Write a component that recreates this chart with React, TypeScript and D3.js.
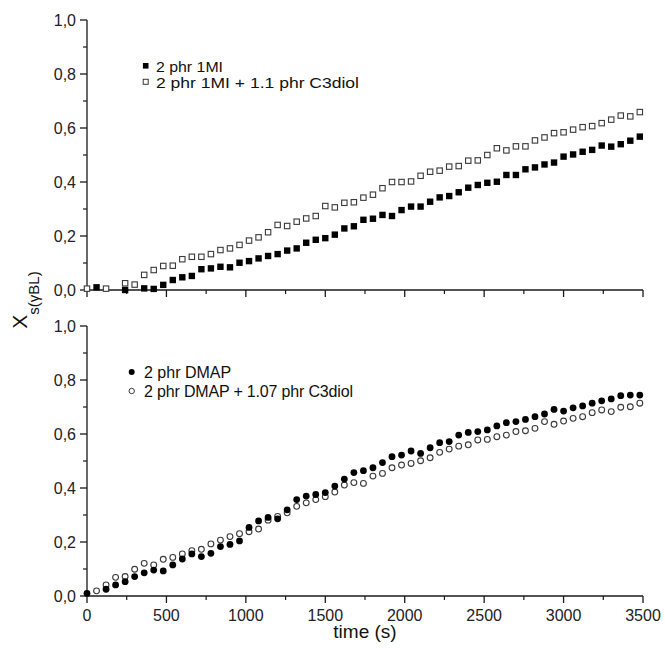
import React from "react";
import * as d3 from "d3";

// ---- data (time in s, conversion X) ----
const topFilled: [number, number][] = [[60,0.010],[240,0.000],[360,0.006],[420,0.004],[480,0.019],[540,0.037],[600,0.047],[660,0.052],[720,0.077],[780,0.080],[840,0.086],[900,0.084],[960,0.101],[1020,0.107],[1080,0.117],[1140,0.126],[1200,0.133],[1260,0.146],[1320,0.154],[1380,0.175],[1440,0.186],[1500,0.192],[1560,0.205],[1620,0.228],[1680,0.236],[1740,0.260],[1800,0.264],[1860,0.278],[1920,0.274],[1980,0.296],[2040,0.309],[2100,0.309],[2160,0.327],[2220,0.343],[2280,0.348],[2340,0.362],[2400,0.379],[2460,0.389],[2520,0.397],[2580,0.401],[2640,0.426],[2700,0.426],[2760,0.447],[2820,0.454],[2880,0.465],[2940,0.472],[3000,0.494],[3060,0.502],[3120,0.512],[3180,0.519],[3240,0.535],[3300,0.531],[3360,0.540],[3420,0.553],[3480,0.568]];

const topOpen: [number, number][] = [[0,0.005],[120,0.005],[240,0.025],[300,0.020],[360,0.056],[420,0.074],[480,0.089],[540,0.090],[600,0.114],[660,0.123],[720,0.123],[780,0.133],[840,0.148],[900,0.154],[960,0.167],[1020,0.183],[1080,0.195],[1140,0.214],[1200,0.241],[1260,0.237],[1320,0.253],[1380,0.265],[1440,0.274],[1500,0.311],[1560,0.306],[1620,0.323],[1680,0.325],[1740,0.342],[1800,0.353],[1860,0.377],[1920,0.400],[1980,0.400],[2040,0.402],[2100,0.423],[2160,0.438],[2220,0.442],[2280,0.457],[2340,0.459],[2400,0.479],[2460,0.480],[2520,0.500],[2580,0.525],[2640,0.517],[2700,0.532],[2760,0.532],[2820,0.554],[2880,0.565],[2940,0.581],[3000,0.584],[3060,0.594],[3120,0.603],[3180,0.607],[3240,0.618],[3300,0.631],[3360,0.646],[3420,0.643],[3480,0.659]];

const botFilled: [number, number][] = [[0,0.010],[120,0.025],[180,0.041],[240,0.053],[300,0.072],[360,0.086],[420,0.096],[480,0.093],[540,0.115],[600,0.137],[660,0.156],[720,0.146],[780,0.158],[840,0.183],[900,0.191],[960,0.204],[1020,0.254],[1080,0.278],[1140,0.291],[1200,0.286],[1260,0.319],[1320,0.357],[1380,0.370],[1440,0.376],[1500,0.383],[1560,0.407],[1620,0.433],[1680,0.457],[1740,0.464],[1800,0.475],[1860,0.494],[1920,0.516],[1980,0.522],[2040,0.537],[2100,0.528],[2160,0.549],[2220,0.568],[2280,0.572],[2340,0.596],[2400,0.606],[2460,0.609],[2520,0.615],[2580,0.630],[2640,0.642],[2700,0.646],[2760,0.654],[2820,0.664],[2880,0.674],[2940,0.691],[3000,0.685],[3060,0.697],[3120,0.704],[3180,0.714],[3240,0.723],[3300,0.730],[3360,0.742],[3420,0.744],[3480,0.744]];

const botOpen: [number, number][] = [[60,0.019],[120,0.041],[180,0.069],[240,0.072],[300,0.099],[360,0.121],[420,0.115],[480,0.136],[540,0.143],[600,0.156],[660,0.168],[720,0.173],[780,0.193],[840,0.207],[900,0.220],[960,0.231],[1020,0.238],[1080,0.248],[1140,0.281],[1200,0.295],[1260,0.308],[1320,0.332],[1380,0.345],[1440,0.357],[1500,0.368],[1560,0.385],[1620,0.411],[1680,0.420],[1740,0.417],[1800,0.444],[1860,0.454],[1920,0.475],[1980,0.485],[2040,0.491],[2100,0.501],[2160,0.512],[2220,0.532],[2280,0.544],[2340,0.555],[2400,0.560],[2460,0.578],[2520,0.580],[2580,0.590],[2640,0.596],[2700,0.609],[2760,0.612],[2820,0.621],[2880,0.646],[2940,0.636],[3000,0.648],[3060,0.658],[3120,0.664],[3180,0.679],[3240,0.689],[3300,0.683],[3360,0.699],[3420,0.701],[3480,0.714]];

const xMajorTicks = [0, 500, 1000, 1500, 2000, 2500, 3000, 3500];
const xMinorTicks = [250, 750, 1250, 1750, 2250, 2750, 3250];
const yMajorTicks = [0, 0.2, 0.4, 0.6, 0.8, 1.0];
const yMinorTicks = [0.1, 0.3, 0.5, 0.7, 0.9];

const topLegend = ["2 phr 1MI", "2 phr 1MI + 1.1 phr C3diol"];
const botLegend = ["2 phr DMAP", "2 phr DMAP + 1.07 phr C3diol"];
const xTitle = "time (s)";

const FONT = "'Liberation Sans', Arial, Helvetica, sans-serif";
const AX = "#1a1a1a";
const OPEN = "#3a3a3a";

const fmt = d3.formatLocale({ decimal: ",", thousands: ".", grouping: [3], currency: ["", ""] }).format(".1f");

const x = d3.scaleLinear().domain([0, 3500]).range([87, 643]);

function Panel({ y, showXLabels }: { y: d3.ScaleLinear<number, number>; showXLabels: boolean }) {
  const [y0, y1] = y.range();
  return (
    <g>
      <line x1={x(0)} x2={x(0)} y1={y1} y2={y0} stroke={AX} strokeWidth={1.3} />
      {yMajorTicks.map((t) => (
        <g key={"ym" + t}>
          <line x1={x(0) - 7} x2={x(0)} y1={y(t)} y2={y(t)} stroke={AX} strokeWidth={1.3} />
          <text x={x(0) - 11} y={y(t)} dy="0.36em" textAnchor="end" fontSize={16} fontFamily={FONT} fill="#222">
            {fmt(t)}
          </text>
        </g>
      ))}
      {yMinorTicks.map((t) => (
        <line key={"yn" + t} x1={x(0) - 4} x2={x(0)} y1={y(t)} y2={y(t)} stroke={AX} strokeWidth={1.2} />
      ))}
      <line x1={x(0)} x2={x(3500)} y1={y0} y2={y0} stroke={AX} strokeWidth={1.3} />
      {xMajorTicks.map((t) => (
        <g key={"xm" + t}>
          <line x1={x(t)} x2={x(t)} y1={y0} y2={y0 + 7} stroke={AX} strokeWidth={1.3} />
          {showXLabels && (
            <text x={x(t)} y={y0 + 25} textAnchor="middle" fontSize={16} fontFamily={FONT} fill="#222">
              {t}
            </text>
          )}
        </g>
      ))}
      {xMinorTicks.map((t) => (
        <line key={"xn" + t} x1={x(t)} x2={x(t)} y1={y0} y2={y0 + 4} stroke={AX} strokeWidth={1.2} />
      ))}
    </g>
  );
}

export default function App() {
  const yTop = d3.scaleLinear().domain([0, 1]).range([290, 20]);
  const yBot = d3.scaleLinear().domain([0, 1]).range([596, 326]);
  const sq = 6.4;
  const r = 3.4;
  return (
    <svg width={665} height={651} style={{ position: "absolute", left: 0, top: 0, background: "#fff" }}>
      <rect x={0} y={0} width={665} height={651} fill="#fff" />
      <Panel y={yTop} showXLabels={false} />
      <Panel y={yBot} showXLabels={true} />

      {topOpen.map(([t, v], i) => (
        <rect key={"to" + i} x={x(t) - sq / 2 + 0.5} y={yTop(v) - sq / 2 + 0.5} width={sq - 1} height={sq - 1} fill="#fff" stroke={OPEN} strokeWidth={1.1} />
      ))}
      {topFilled.map(([t, v], i) => (
        <rect key={"tf" + i} x={x(t) - sq / 2} y={yTop(v) - sq / 2} width={sq} height={sq} fill="#000" />
      ))}

      {botOpen.map(([t, v], i) => (
        <circle key={"bo" + i} cx={x(t)} cy={yBot(v)} r={r - 0.5} fill="#fff" stroke={OPEN} strokeWidth={1.1} />
      ))}
      {botFilled.map(([t, v], i) => (
        <circle key={"bf" + i} cx={x(t)} cy={yBot(v)} r={r} fill="#000" />
      ))}

      {/* top legend */}
      <rect x={142.9} y={63} width={5.6} height={5.6} fill="#000" />
      <text x={156} y={71.5} fontSize={14.5} fontFamily={FONT} fill="#111" textLength={67} lengthAdjust="spacingAndGlyphs">{topLegend[0]}</text>
      <rect x={143.2} y={79.3} width={5} height={5} fill="#fff" stroke={OPEN} strokeWidth={1} />
      <text x={156} y={87.5} fontSize={14.5} fontFamily={FONT} fill="#111" textLength={203} lengthAdjust="spacingAndGlyphs">{topLegend[1]}</text>

      {/* bottom legend */}
      <circle cx={131.7} cy={372} r={3} fill="#000" />
      <text x={144} y={377.5} fontSize={16} fontFamily={FONT} fill="#111">{botLegend[0]}</text>
      <circle cx={131.7} cy={391} r={2.7} fill="#fff" stroke={OPEN} strokeWidth={1} />
      <text x={144} y={397} fontSize={16} fontFamily={FONT} fill="#111" textLength={209} lengthAdjust="spacing">{botLegend[1]}</text>

      <text x={365} y={638} textAnchor="middle" fontSize={19} fontFamily={FONT} fill="#111">{xTitle}</text>
      <text transform="translate(27,300) rotate(-90)" textAnchor="middle" fontFamily={FONT} fill="#111">
        <tspan fontSize={21}>X</tspan>
        <tspan fontSize={15} dy={12}>s(γBL)</tspan>
      </text>
    </svg>
  );
}
